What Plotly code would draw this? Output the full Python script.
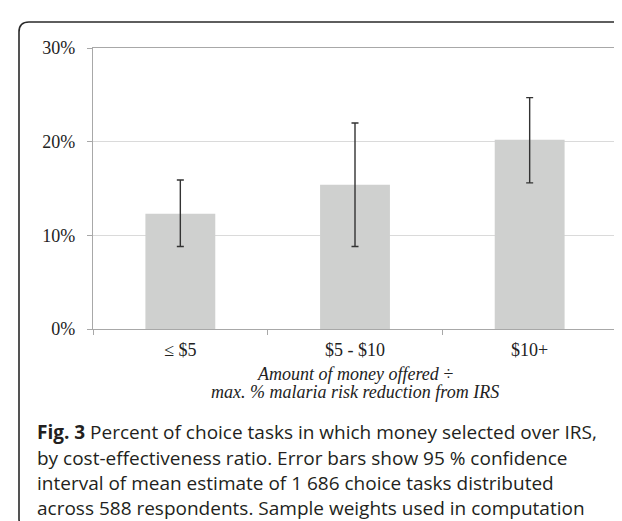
import plotly.graph_objects as go

categories = ["≤ $5", "$5 - $10", "$10+"]
percent_money = [12.3, 15.4, 20.2]
ci_lower = [8.8, 8.8, 15.6]
ci_upper = [15.9, 22.0, 24.7]
y_ticks = [0, 10, 20, 30]
y_tick_labels = ["0%", "10%", "20%", "30%"]

title_line1 = "Amount of money offered ÷"
title_line2 = "max. % malaria risk reduction from IRS"
caption_lines = [
    "<b>Fig. 3</b> Percent of choice tasks in which money selected over IRS,",
    "by cost-effectiveness ratio. Error bars show 95 % confidence",
    "interval of mean estimate of 1 686 choice tasks distributed",
    "across 588 respondents. Sample weights used in computation",
]

W, H = 622, 521
L, R, T, B = 85, 13, 40, 200
pw, ph = W - L - R, H - T - B


def px(x):
    return (x - L) / pw


def py(y):
    return (H - B - y) / ph


err_plus = [u - v for u, v in zip(ci_upper, percent_money)]
err_minus = [v - l for v, l in zip(percent_money, ci_lower)]

fig = go.Figure()
fig.add_trace(go.Bar(
    x=categories, y=percent_money, width=0.4,
    marker=dict(color="#cfd0cf", line=dict(width=0)),
    error_y=dict(type="data", symmetric=False, array=err_plus, arrayminus=err_minus,
                 color="#333333", thickness=1.4, width=3.5),
    showlegend=False,
))

serif = "Liberation Serif, Times New Roman, serif"
fig.update_layout(
    width=W, height=H,
    margin=dict(l=L, r=R, t=T, b=B),
    paper_bgcolor="white", plot_bgcolor="white",
    xaxis=dict(
        type="category", range=[-0.5, 2.5], tickson="boundaries",
        showline=True, linecolor="#a8a8a8", linewidth=1.3, mirror=True,
        ticks="outside", ticklen=5, tickcolor="#a8a8a8", tickwidth=1,
        tickfont=dict(family=serif, size=18, color="#222222"),
        showgrid=False, fixedrange=True, ticklabelstandoff=4,
    ),
    yaxis=dict(
        range=[0, 30], tickvals=y_ticks, ticktext=y_tick_labels,
        showline=True, linecolor="#a8a8a8", linewidth=1.3, mirror=True,
        ticks="outside", ticklen=5, tickcolor="#a8a8a8", tickwidth=1,
        showgrid=True, gridcolor="#dadada", gridwidth=1, zeroline=False,
        tickfont=dict(family=serif, size=18, color="#222222"),
        ticklabelstandoff=8, fixedrange=True,
    ),
)

annotations = [
    dict(text="<i>" + title_line1 + "</i>", x=0.5, y=py(366), xref="paper", yref="paper",
         xanchor="center", yanchor="middle", showarrow=False,
         font=dict(family=serif, size=18, color="#222222")),
    dict(text="<i>" + title_line2 + "</i>", x=0.5, y=py(384), xref="paper", yref="paper",
         xanchor="center", yanchor="middle", showarrow=False,
         font=dict(family=serif, size=18, color="#222222")),
]

cap_y = [424, 450, 475, 500]
for line, yy in zip(caption_lines, cap_y):
    annotations.append(dict(
        text=line, x=px(27), y=py(yy), xref="paper", yref="paper",
        xanchor="left", yanchor="middle", showarrow=False,
        font=dict(family="Open Sans, sans-serif", size=19, color="#231f20"),
    ))
fig.update_layout(annotations=annotations)

# outer rounded frame
lx, rx_, ty, by = px(11), px(650), py(14), py(521.5)
rx, ry = 10 / pw, 10 / ph
path = (f"M {rx_} {ty} L {lx + rx} {ty} Q {lx} {ty} {lx} {ty - ry} "
        f"L {lx} {by + ry} Q {lx} {by} {lx + rx} {by} L {rx_} {by}")
fig.add_shape(type="path", path=path, xref="paper", yref="paper",
              line=dict(color="#2a2a2a", width=1.6), layer="above")

fig.write_html("out.html")
